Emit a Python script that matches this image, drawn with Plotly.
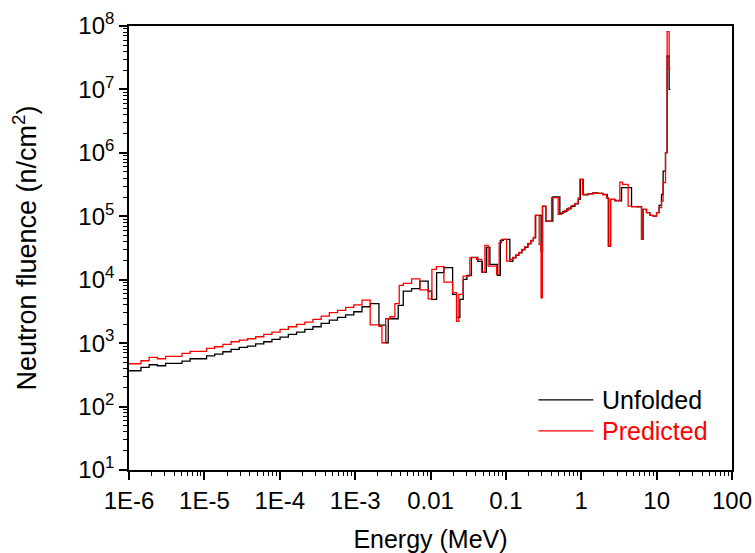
import plotly.graph_objects as go

# Unfolded spectrum: lower bin edges (MeV) followed by the last upper edge, and fluence per bin
unf_edges = [1.00e-6, 1.44e-6, 1.85e-6, 2.38e-6, 3.06e-6, 5.05e-6, 6.46e-6, 1.07e-5, 1.37e-5, 1.76e-5,
             2.26e-5, 2.90e-5, 3.73e-5, 4.79e-5, 6.14e-5, 7.88e-5, 1.01e-4, 1.30e-4, 1.67e-4, 2.15e-4,
             2.76e-4, 3.54e-4, 4.55e-4, 5.84e-4, 7.48e-4, 9.61e-4, 1.234e-3, 1.585e-3, 2.07e-3, 2.54e-3,
             2.75e-3, 3.73e-3, 4.35e-3, 5.61e-3, 7.23e-3, 9.32e-3, 1.034e-2, 1.205e-2, 1.506e-2, 1.964e-2,
             2.219e-2, 2.455e-2, 2.715e-2, 3.04e-2, 3.49e-2, 4.25e-2, 4.88e-2, 5.51e-2, 6.14e-2, 7.71e-2,
             8.45e-2, 9.26e-2, 0.1130, 0.1238, 0.1357, 0.1487, 0.1631, 0.1786, 0.1958, 0.2146,
             0.2316, 0.2484, 0.2930, 0.3067, 0.3393, 0.4200, 0.5202, 0.5702, 0.6442, 0.7278,
             0.8225, 0.9152, 0.9730, 1.060, 1.223, 1.425, 1.661, 1.934, 2.220, 2.309,
             2.447, 2.790, 3.423, 4.647, 6.306, 6.622, 7.345, 8.124, 8.987, 9.970,
             10.80, 11.61, 12.20, 13.12, 13.78, 14.65, 15.20]
unf_flux = [367, 414, 456, 440, 479, 520, 567, 628, 671, 732,
            796, 855, 897, 971, 1052, 1144, 1243, 1372, 1491, 1645,
            1814, 2045, 2306, 2543, 2784, 3128, 3751, 4183, 1923, 1015,
            2426, 3933, 6610, 7211, 9504, 6610, 4890, 12890, 15460, 5864,
            2543, 4890, 10110, 11690, 22470, 19440, 13030, 32320, 17430, 11690,
            41690, 43210, 19440, 22070, 24170, 26470, 29510, 32320, 36710, 40930,
            45620, 103300, 28260, 143300, 84000, 202300, 111100, 119500, 130900, 143300,
            156900, 184800, 381900, 217600, 225600, 233900, 229700, 221500, 191600, 33880,
            184800, 174900, 282600, 141700, 43210, 128500, 114000, 103300, 100700, 114000,
            148600, 221500, 516400, 1.007e6, 3.364e7, 1.004e7]

# Predicted spectrum
pred_edges = [1.00e-6, 1.44e-6, 1.85e-6, 2.38e-6, 3.06e-6, 5.05e-6, 6.46e-6, 1.07e-5, 1.37e-5, 1.76e-5,
              2.26e-5, 2.90e-5, 3.73e-5, 4.79e-5, 6.14e-5, 7.88e-5, 1.01e-4, 1.30e-4, 1.67e-4, 2.15e-4,
              2.76e-4, 3.54e-4, 4.55e-4, 5.84e-4, 7.48e-4, 9.61e-4, 1.234e-3, 1.585e-3, 2.07e-3, 2.27e-3,
              2.54e-3, 2.89e-3, 3.37e-3, 3.85e-3, 4.35e-3, 5.61e-3, 7.23e-3, 9.32e-3, 1.044e-2, 1.197e-2,
              1.506e-2, 1.964e-2, 2.219e-2, 2.380e-2, 2.715e-2, 3.33e-2, 4.09e-2, 4.76e-2, 5.27e-2, 5.82e-2,
              7.53e-2, 8.15e-2, 8.77e-2, 0.1022, 0.1130, 0.1238, 0.1357, 0.1487, 0.1631, 0.1786,
              0.1958, 0.2146, 0.2316, 0.2446, 0.2764, 0.2930, 0.3049, 0.3393, 0.4037, 0.4939,
              0.5479, 0.6060, 0.6744, 0.7503, 0.8352, 0.9097, 0.9581, 1.040, 1.223, 1.425,
              1.661, 1.934, 2.166, 2.275, 2.447, 2.790, 3.250, 3.529, 4.188, 4.647,
              5.413, 6.306, 6.622, 7.345, 8.124, 8.987, 9.970, 10.80, 11.61, 12.20,
              13.12, 13.78, 14.65, 15.20]
pred_flux = [473, 528, 595, 567, 617, 688, 740, 825, 878, 954,
             1052, 1115, 1173, 1262, 1372, 1491, 1645, 1814, 1972, 2144,
             2365, 2667, 3017, 3281, 3657, 4004, 4768, 1937, 1834, 1015,
             2426, 2609, 4183, 8130, 8745, 10290, 6904, 4980, 14540, 16030,
             9165, 6237, 2199, 5864, 11400, 22230, 20900, 13180, 34750, 16390,
             12120, 38330, 43210, 19660, 20900, 22470, 24610, 26960, 30060, 32920,
             37370, 41690, 46460, 103300, 36050, 5200, 144900, 84000, 196600, 107100,
             114000, 123900, 135700, 148600, 159800, 195100, 381900, 221500, 225600, 231400,
             229700, 217600, 196600, 33880, 184800, 178200, 346300, 318600, 144900, 141700,
             140700, 43210, 128500, 114000, 103300, 100700, 114000, 136700, 173700, 338800,
             1.007e6, 8.16e7, 2.075e7]

series_names = ["Unfolded", "Predicted"]
series_colors = ["#000000", "#FF0000"]

x_tickvals = [1e-6, 1e-5, 1e-4, 1e-3, 1e-2, 1e-1, 1, 10, 100]
x_ticktext = ["1E-6", "1E-5", "1E-4", "1E-3", "0.01", "0.1", "1", "10", "100"]
y_tickvals = [1e1, 1e2, 1e3, 1e4, 1e5, 1e6, 1e7, 1e8]
y_ticktext = ["10<sup>%d</sup>" % i for i in range(1, 9)]

FONT = "Liberation Sans, Arial, sans-serif"

fig = go.Figure()
for edges, flux, name, color in [(unf_edges, unf_flux, series_names[0], series_colors[0]),
                                 (pred_edges, pred_flux, series_names[1], series_colors[1])]:
    fig.add_trace(go.Scatter(
        x=edges, y=list(flux) + [flux[-1]], mode="lines", name=name,
        line=dict(color=color, width=1.3, shape="hv"), showlegend=False))

def minor_vals(lo, hi):
    vals = []
    for d in range(lo, hi):
        for m in range(2, 10):
            vals.append(m * 10.0 ** d)
    return vals

axis_common = dict(
    type="log", showgrid=False, zeroline=False, showline=True, linecolor="black",
    linewidth=1.6, mirror=True, ticks="outside", ticklen=8, tickwidth=1.6, tickcolor="black",
    tickfont=dict(family=FONT, size=24, color="black"), automargin=False,
)

fig.update_xaxes(**axis_common, range=[-6, 2], tickmode="array", tickvals=x_tickvals, ticktext=x_ticktext,
                 minor=dict(tickmode="array", tickvals=minor_vals(-6, 2), ticks="outside", ticklen=4,
                            tickwidth=1.3, tickcolor="black", showgrid=False),
                 title=dict(text="Energy (MeV)", font=dict(family=FONT, size=25, color="black"), standoff=18))
fig.update_yaxes(**axis_common, range=[1, 8], tickmode="array", tickvals=y_tickvals, ticktext=y_ticktext,
                 minor=dict(tickmode="array", tickvals=minor_vals(1, 8), ticks="outside", ticklen=4,
                            tickwidth=1.3, tickcolor="black", showgrid=False),
                 title=dict(text="Neutron fluence (n/cm<sup>2</sup>)", font=dict(family=FONT, size=27, color="black"),
                            standoff=34))

# legend drawn as short line samples and coloured labels in the lower right of the plot
leg_y = [0.158, 0.088]
for yy, name, color in zip(leg_y, series_names, series_colors):
    fig.add_shape(type="line", xref="paper", yref="paper", x0=0.679, x1=0.770, y0=yy, y1=yy,
                  line=dict(color=color, width=1.3))
    fig.add_annotation(xref="paper", yref="paper", x=0.781, y=yy, text=name, showarrow=False,
                       xanchor="left", yanchor="middle", font=dict(family=FONT, size=25, color=color))

fig.update_layout(
    width=755, height=553, margin=dict(l=129, r=23, t=26, b=83),
    paper_bgcolor="white", plot_bgcolor="white",
    font=dict(family=FONT, color="black"),
)

fig.write_html("out.html")
